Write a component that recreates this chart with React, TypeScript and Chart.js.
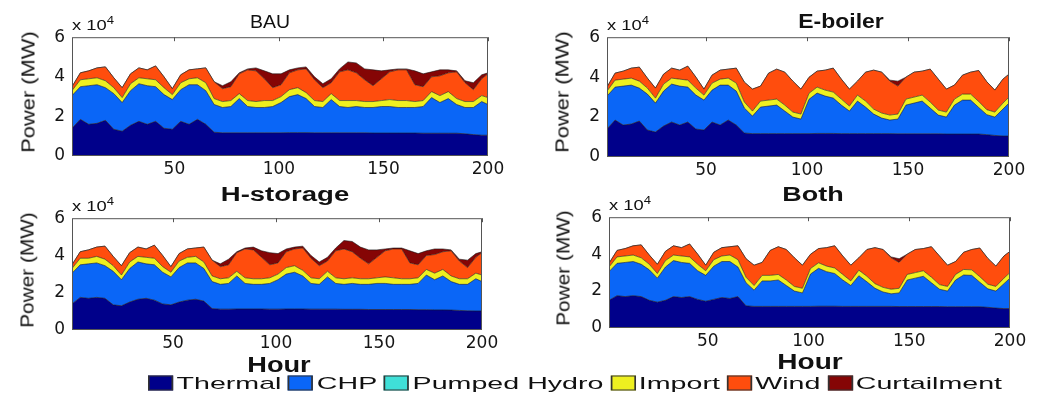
import React, { useEffect, useLayoutEffect, useRef, useState } from "react";
import { Chart, registerables } from "chart.js";

Chart.register(...registerables);

// ---------- data (power in units of 10^4 MW) ----------
const HOURS = [
  1, 5, 9, 13, 17, 21, 25, 29, 33, 37, 41, 45, 49, 53, 57, 61, 65, 69,
  73, 77, 81, 85, 89, 93, 97, 101, 105, 109, 113, 117, 121, 125, 129, 133, 137, 141,
  145, 149, 153, 157, 161, 165, 169, 173, 177, 181, 185, 189, 193, 197, 200,
];
const X_TICKS = [50, 100, 150, 200];
const Y_TICKS = [0, 2, 4, 6];
const SERIES_NAMES = ["Thermal", "CHP", "Pumped Hydro", "Import", "Wind", "Curtailment"];
const SERIES_COLORS = ["#00008a", "#0a66f7", "#3fe0d8", "#eef020", "#ff4d0d", "#850505"];

// BAU
const BAU_THERMAL = [
  1.4, 1.85, 1.6, 1.65, 1.8, 1.35, 1.25, 1.55, 1.75, 1.6, 1.75, 1.4, 1.35, 1.75, 1.6, 1.85, 1.6, 1.2,
  1.17, 1.17, 1.17, 1.17, 1.17, 1.17, 1.17, 1.17, 1.18, 1.18, 1.18, 1.17, 1.17, 1.17, 1.17, 1.17, 1.17, 1.17,
  1.16, 1.16, 1.16, 1.16, 1.16, 1.16, 1.15, 1.15, 1.15, 1.15, 1.15, 1.12, 1.08, 1.05, 1.05,
];
const BAU_CHP = [
  1.65, 1.65, 1.95, 1.95, 1.65, 1.8, 1.45, 1.75, 1.9, 1.95, 1.75, 1.7, 1.5, 1.6, 2.0, 1.75, 1.7, 1.4,
  1.28, 1.33, 1.73, 1.33, 1.28, 1.28, 1.33, 1.53, 1.82, 1.92, 1.72, 1.33, 1.28, 1.68, 1.33, 1.28, 1.33, 1.28,
  1.29, 1.34, 1.34, 1.29, 1.29, 1.29, 1.35, 1.8, 1.55, 1.75, 1.45, 1.33, 1.37, 1.7, 1.55,
];
const BAU_IMPORT = [
  0.25, 0.35, 0.35, 0.35, 0.35, 0.3, 0.25, 0.35, 0.3, 0.35, 0.35, 0.35, 0.25, 0.35, 0.3, 0.35, 0.4, 0.3,
  0.3, 0.3, 0.25, 0.3, 0.3, 0.35, 0.3, 0.3, 0.35, 0.35, 0.3, 0.3, 0.3, 0.3, 0.3, 0.35, 0.3, 0.3,
  0.3, 0.3, 0.35, 0.35, 0.35, 0.3, 0.3, 0.3, 0.35, 0.35, 0.3, 0.3, 0.3, 0.3, 0.35,
];
const BAU_WIND = [
  0.2, 0.35, 0.4, 0.5, 0.7, 0.5, 0.5, 0.5, 0.5, 0.45, 0.7, 0.55, 0.3, 0.4, 0.45, 0.45, 0.75, 0.85,
  0.65, 0.7, 1.0, 1.55, 1.55, 1.1, 0.65, 0.6, 0.85, 0.9, 1.2, 1.05, 0.7, 0.55, 1.45, 1.55, 1.4, 1.1,
  0.8, 1.1, 1.4, 1.55, 1.55, 0.85, 0.7, 0.75, 1.0, 0.95, 1.35, 0.95, 0.6, 0.85, 1.2,
];
const BAU_CURTAILMENT = [
  0, 0, 0, 0, 0, 0, 0, 0, 0, 0, 0, 0, 0, 0, 0, 0, 0, 0,
  0.15, 0.25, 0.05, 0.05, 0.15, 0.4, 0.7, 0.55, 0.15, 0.1, 0.1, 0.15, 0.2, 0.2, 0.15, 0.4, 0.5, 0.55,
  0.8, 0.4, 0.1, 0.05, 0.05, 0.7, 0.65, 0.25, 0.3, 0.15, 0.05, 0.1, 0.35, 0.2, 0.05,
];

// E-boiler
const EB_THERMAL = [
  1.4, 1.85, 1.6, 1.65, 1.8, 1.35, 1.25, 1.55, 1.75, 1.6, 1.75, 1.4, 1.35, 1.75, 1.6, 1.85, 1.6, 1.2,
  1.17, 1.17, 1.17, 1.17, 1.17, 1.17, 1.17, 1.17, 1.18, 1.18, 1.18, 1.17, 1.17, 1.17, 1.17, 1.17, 1.17, 1.17,
  1.16, 1.16, 1.16, 1.16, 1.16, 1.16, 1.15, 1.15, 1.15, 1.15, 1.15, 1.12, 1.08, 1.05, 1.05,
];
const EB_CHP = [
  1.65, 1.65, 1.95, 1.95, 1.65, 1.8, 1.45, 1.75, 1.9, 1.95, 1.75, 1.7, 1.5, 1.6, 2.0, 1.75, 1.7, 1.25,
  0.88, 1.33, 1.38, 1.43, 1.13, 0.83, 0.73, 1.72, 2.02, 1.87, 1.77, 1.43, 1.13, 1.63, 1.33, 0.98, 0.78, 0.68,
  0.74, 1.44, 1.54, 1.64, 1.29, 0.94, 0.85, 1.45, 1.7, 1.7, 1.33, 1.0, 0.92, 1.35, 1.65,
];
const EB_IMPORT = [
  0.25, 0.35, 0.35, 0.35, 0.35, 0.3, 0.25, 0.35, 0.3, 0.35, 0.35, 0.35, 0.25, 0.35, 0.3, 0.35, 0.4, 0.3,
  0.25, 0.3, 0.3, 0.3, 0.3, 0.25, 0.25, 0.3, 0.3, 0.3, 0.3, 0.3, 0.25, 0.3, 0.3, 0.25, 0.25, 0.25,
  0.25, 0.3, 0.3, 0.3, 0.3, 0.25, 0.25, 0.3, 0.3, 0.3, 0.3, 0.25, 0.25, 0.3, 0.3,
];
const EB_WIND = [
  0.2, 0.35, 0.4, 0.5, 0.7, 0.5, 0.5, 0.5, 0.5, 0.45, 0.7, 0.55, 0.3, 0.4, 0.45, 0.45, 0.75, 1.0,
  1.1, 0.75, 1.35, 1.5, 1.65, 1.55, 1.25, 0.8, 0.8, 1.0, 1.2, 1.0, 0.85, 0.7, 1.45, 1.95, 2.05, 1.7,
  1.4, 1.1, 1.25, 1.2, 1.65, 1.55, 1.15, 0.7, 0.95, 1.1, 1.55, 1.4, 1.1, 1.2, 1.15,
];
const EB_CURTAILMENT = [
  0, 0, 0, 0, 0, 0, 0, 0, 0, 0, 0, 0, 0, 0, 0, 0, 0, 0,
  0, 0, 0, 0, 0, 0, 0, 0, 0, 0, 0, 0, 0, 0, 0, 0, 0, 0.05,
  0.25, 0, 0, 0, 0, 0, 0, 0, 0, 0, 0, 0, 0, 0, 0,
];

// H-storage
const HS_THERMAL = [
  1.4, 1.75, 1.7, 1.75, 1.7, 1.35, 1.3, 1.5, 1.65, 1.7, 1.6, 1.4, 1.35, 1.5, 1.6, 1.65, 1.55, 1.15,
  1.12, 1.12, 1.13, 1.13, 1.13, 1.13, 1.12, 1.12, 1.13, 1.13, 1.13, 1.12, 1.12, 1.12, 1.12, 1.11, 1.11, 1.11,
  1.1, 1.1, 1.1, 1.1, 1.1, 1.1, 1.09, 1.09, 1.08, 1.08, 1.07, 1.05, 1.03, 1.02, 1.02,
];
const HS_CHP = [
  1.65, 1.75, 1.85, 1.85, 1.75, 1.8, 1.4, 1.8, 2.0, 1.85, 1.9, 1.7, 1.5, 1.85, 2.0, 1.95, 1.75, 1.45,
  1.33, 1.38, 1.77, 1.37, 1.32, 1.32, 1.38, 1.58, 1.87, 1.97, 1.77, 1.38, 1.33, 1.73, 1.38, 1.34, 1.39, 1.34,
  1.35, 1.4, 1.4, 1.35, 1.35, 1.35, 1.41, 1.86, 1.62, 1.82, 1.53, 1.4, 1.42, 1.73, 1.58,
];
const HS_IMPORT = [
  0.25, 0.35, 0.3, 0.35, 0.35, 0.3, 0.25, 0.35, 0.3, 0.35, 0.35, 0.3, 0.25, 0.35, 0.3, 0.35, 0.35, 0.3,
  0.3, 0.3, 0.25, 0.3, 0.3, 0.3, 0.3, 0.3, 0.35, 0.35, 0.3, 0.3, 0.3, 0.3, 0.3, 0.3, 0.3, 0.3,
  0.3, 0.3, 0.35, 0.35, 0.3, 0.3, 0.3, 0.3, 0.35, 0.35, 0.3, 0.3, 0.3, 0.3, 0.35,
];
const HS_WIND = [
  0.2, 0.35, 0.45, 0.5, 0.7, 0.5, 0.5, 0.5, 0.5, 0.45, 0.7, 0.6, 0.3, 0.4, 0.45, 0.45, 0.8, 0.85,
  0.65, 0.7, 1.0, 1.55, 1.55, 1.15, 0.7, 0.6, 0.85, 0.9, 1.2, 1.05, 0.7, 0.55, 1.45, 1.6, 1.4, 1.1,
  0.8, 1.1, 1.4, 1.55, 1.6, 0.85, 0.7, 0.75, 1.0, 0.95, 1.35, 0.95, 0.6, 0.85, 1.2,
];
const HS_CURTAILMENT = [
  0, 0, 0, 0, 0, 0, 0, 0, 0, 0, 0, 0, 0, 0, 0, 0, 0, 0,
  0.15, 0.3, 0.05, 0.05, 0.15, 0.35, 0.65, 0.5, 0.15, 0.1, 0.1, 0.15, 0.2, 0.2, 0.15, 0.45, 0.55, 0.6,
  0.75, 0.4, 0.1, 0.05, 0.05, 0.65, 0.6, 0.25, 0.3, 0.15, 0.05, 0.1, 0.4, 0.2, 0.05,
];

// Both
const BO_THERMAL = [
  1.5, 1.75, 1.7, 1.75, 1.7, 1.5, 1.4, 1.5, 1.7, 1.65, 1.7, 1.55, 1.45, 1.55, 1.65, 1.6, 1.7, 1.2,
  1.17, 1.17, 1.17, 1.17, 1.17, 1.17, 1.17, 1.17, 1.18, 1.18, 1.18, 1.17, 1.17, 1.17, 1.17, 1.17, 1.17, 1.17,
  1.16, 1.16, 1.16, 1.16, 1.16, 1.16, 1.15, 1.15, 1.15, 1.15, 1.15, 1.12, 1.08, 1.05, 1.05,
];
const BO_CHP = [
  1.55, 1.75, 1.85, 1.85, 1.75, 1.65, 1.3, 1.8, 1.95, 1.9, 1.8, 1.55, 1.4, 1.8, 1.95, 2.0, 1.6, 1.25,
  0.88, 1.38, 1.38, 1.43, 1.13, 0.83, 0.73, 1.75, 2.05, 1.87, 1.77, 1.43, 1.13, 1.66, 1.33, 0.98, 0.78, 0.68,
  0.74, 1.44, 1.54, 1.64, 1.29, 0.94, 0.85, 1.45, 1.72, 1.7, 1.33, 1.0, 0.92, 1.35, 1.65,
];
const BO_IMPORT = [
  0.25, 0.35, 0.35, 0.35, 0.35, 0.3, 0.25, 0.35, 0.3, 0.35, 0.35, 0.35, 0.25, 0.35, 0.3, 0.35, 0.4, 0.3,
  0.25, 0.3, 0.3, 0.3, 0.3, 0.25, 0.25, 0.3, 0.3, 0.3, 0.3, 0.3, 0.25, 0.3, 0.3, 0.25, 0.25, 0.25,
  0.25, 0.3, 0.3, 0.3, 0.3, 0.25, 0.25, 0.3, 0.3, 0.3, 0.3, 0.25, 0.25, 0.3, 0.3,
];
const BO_WIND = [
  0.2, 0.35, 0.4, 0.5, 0.7, 0.5, 0.5, 0.5, 0.5, 0.45, 0.7, 0.55, 0.3, 0.4, 0.45, 0.45, 0.75, 1.0,
  1.1, 0.7, 1.35, 1.5, 1.65, 1.55, 1.25, 0.77, 0.77, 1.0, 1.2, 1.0, 0.85, 0.67, 1.45, 1.95, 2.05, 1.7,
  1.4, 1.1, 1.25, 1.2, 1.65, 1.55, 1.15, 0.7, 0.93, 1.1, 1.55, 1.4, 1.1, 1.2, 1.15,
];
const BO_CURTAILMENT = [
  0, 0, 0, 0, 0, 0, 0, 0, 0, 0, 0, 0, 0, 0, 0, 0, 0, 0,
  0, 0, 0, 0, 0, 0, 0, 0, 0, 0, 0, 0, 0, 0, 0, 0, 0, 0.05,
  0.2, 0, 0, 0, 0, 0, 0, 0, 0, 0, 0, 0, 0, 0, 0,
];

// ---------- layout ----------
type Rect = { l: number; t: number; r: number; b: number };
type PanelCfg = {
  title: string;
  bold: boolean;
  titlePos: { x: number; y: number; w: number; size: number };
  rect: Rect;
  ylab: { x: number; y: number; w: number };
  hour?: { x: number; y: number; w: number };
  series: number[][]; // thermal, chp, import, wind, curtailment
};

const PANELS: PanelCfg[] = [
  {
    title: "BAU", bold: false, titlePos: { x: 270, y: 22, w: 40, size: 18 },
    rect: { l: 72, t: 32, r: 488, b: 156 }, ylab: { x: 28, y: 92, w: 122 },
    series: [BAU_THERMAL, BAU_CHP, BAU_IMPORT, BAU_WIND, BAU_CURTAILMENT],
  },
  {
    title: "E-boiler", bold: true, titlePos: { x: 841, y: 21, w: 85, size: 20 },
    rect: { l: 607, t: 32, r: 1009, b: 157 }, ylab: { x: 562, y: 92, w: 122 },
    series: [EB_THERMAL, EB_CHP, EB_IMPORT, EB_WIND, EB_CURTAILMENT],
  },
  {
    title: "H-storage", bold: true, titlePos: { x: 285, y: 194, w: 128, size: 20 },
    rect: { l: 72, t: 213, r: 482, b: 330 }, ylab: { x: 27, y: 270, w: 116 },
    hour: { x: 279, y: 365, w: 63 },
    series: [HS_THERMAL, HS_CHP, HS_IMPORT, HS_WIND, HS_CURTAILMENT],
  },
  {
    title: "Both", bold: true, titlePos: { x: 813, y: 194, w: 62, size: 20 },
    rect: { l: 609, t: 212, r: 1010, b: 328 }, ylab: { x: 563, y: 268, w: 116 },
    hour: { x: 810, y: 362, w: 65 },
    series: [BO_THERMAL, BO_CHP, BO_IMPORT, BO_WIND, BO_CURTAILMENT],
  },
];

const PLOTTED = [0, 1, 3, 4, 5]; // indices into SERIES_NAMES for the series arrays
const PAD_L = 50, PAD_T = 12, PAD_R = 22, PAD_B = 30;
const TEXT_FONT = "'Liberation Sans', Arial, sans-serif";
const TICK_FONT = { family: "'DejaVu Sans', sans-serif", size: 17 };

const framePlugin = {
  id: "frame",
  afterDraw(chart: any) {
    const { ctx, chartArea: a, scales } = chart;
    ctx.save();
    ctx.strokeStyle = "#555";
    ctx.lineWidth = 1;
    ctx.strokeRect(a.left + 0.5, a.top + 0.5, a.right - a.left - 1, a.bottom - a.top - 1);
    ctx.beginPath();
    for (const v of X_TICKS) {
      const px = Math.round(scales.x.getPixelForValue(v)) + 0.5;
      ctx.moveTo(px, a.top);
      ctx.lineTo(px, a.top + 4);
    }
    ctx.stroke();
    ctx.restore();
  },
};

function AreaPanel({ cfg }: { cfg: PanelCfg }) {
  const ref = useRef<HTMLCanvasElement>(null);
  const { rect } = cfg;
  const w = rect.r - rect.l + PAD_L + PAD_R;
  const h = rect.b - rect.t + PAD_T + PAD_B;

  useEffect(() => {
    if (!ref.current) return;
    const datasets = cfg.series.map((vals, i) => {
      const si = PLOTTED[i];
      return {
        label: SERIES_NAMES[si],
        data: HOURS.map((x, j) => ({ x, y: vals[j] })),
        backgroundColor: SERIES_COLORS[si],
        borderColor: "rgba(25,25,25,0.85)",
        borderWidth: 0.7,
        pointRadius: 0,
        tension: 0,
        fill: i === 0 ? "origin" : "-1",
      };
    });
    const chart = new Chart(ref.current, {
      type: "line",
      data: { datasets } as any,
      options: {
        responsive: false,
        animation: false,
        devicePixelRatio: 1,
        layout: { padding: { top: PAD_T, right: PAD_R, left: 0, bottom: 0 } },
        plugins: {
          legend: { display: false },
          tooltip: { enabled: false },
          title: { display: false },
        },
        scales: {
          x: {
            type: "linear",
            min: 1,
            max: 200,
            afterBuildTicks: (s: any) => {
              s.ticks = X_TICKS.map((v) => ({ value: v }));
            },
            afterFit: (s: any) => {
              s.height = PAD_B;
            },
            ticks: { font: TICK_FONT, color: "#151515", padding: 3, maxRotation: 0, autoSkip: false },
            grid: { display: false, drawTicks: false },
            border: { display: false },
          },
          y: {
            type: "linear",
            stacked: true,
            min: 0,
            max: 6,
            afterBuildTicks: (s: any) => {
              s.ticks = Y_TICKS.map((v) => ({ value: v }));
            },
            afterFit: (s: any) => {
              s.width = PAD_L;
            },
            ticks: { font: TICK_FONT, color: "#151515", padding: 7 },
            grid: { display: false, drawTicks: false },
            border: { display: false },
          },
        },
      } as any,
      plugins: [framePlugin],
    });
    return () => chart.destroy();
  }, [cfg]);

  return (
    <canvas
      ref={ref}
      width={w}
      height={h}
      style={{ position: "absolute", left: rect.l - PAD_L, top: rect.t - PAD_T, width: w, height: h }}
    />
  );
}

function FitText({
  x, y, w, size, bold, rotate, children,
}: {
  x: number; y: number; w: number; size: number; bold?: boolean; rotate?: number; children: React.ReactNode;
}) {
  const ref = useRef<HTMLSpanElement>(null);
  const [sx, setSx] = useState(1);
  useLayoutEffect(() => {
    if (ref.current) {
      const nat = ref.current.offsetWidth;
      if (nat > 0) setSx(w / nat);
    }
  }, [w]);
  return (
    <div
      style={{
        position: "absolute",
        left: x,
        top: y,
        transform: `translate(-50%, -50%) rotate(${rotate || 0}deg) scaleX(${sx})`,
        whiteSpace: "nowrap",
        fontFamily: TEXT_FONT,
        fontSize: size,
        fontWeight: bold ? "bold" : "normal",
        lineHeight: 1,
        color: "#111",
      }}
    >
      <span ref={ref} style={{ display: "inline-block" }}>{children}</span>
    </div>
  );
}

function Legend() {
  return (
    <FitText x={575} y={384} w={855} size={17}>
      <span style={{ display: "inline-flex", alignItems: "center" }}>
        {SERIES_NAMES.map((name, i) => (
          <span key={name} style={{ display: "inline-flex", alignItems: "center", marginRight: i < SERIES_NAMES.length - 1 ? 4 : 0 }}>
            <span
              style={{
                display: "inline-block",
                width: 15,
                height: 15,
                background: SERIES_COLORS[i],
                border: "1px solid #333",
                boxSizing: "border-box",
                marginRight: 2,
              }}
            />
            <span>{name}</span>
          </span>
        ))}
      </span>
    </FitText>
  );
}

export default function App() {
  return (
    <div
      style={{
        position: "absolute",
        left: 0,
        top: 0,
        width: 1056,
        height: 397,
        background: "#fff",
        overflow: "hidden",
      }}
    >
      {PANELS.map((p) => (
        <React.Fragment key={p.title}>
          <AreaPanel cfg={p} />
          <FitText x={p.titlePos.x} y={p.titlePos.y} w={p.titlePos.w} size={p.titlePos.size} bold={p.bold}>
            {p.title}
          </FitText>
          <FitText x={p.rect.l + 21} y={p.rect.t - 7} w={42} size={14}>
            x 10<sup style={{ fontSize: 10, verticalAlign: 6, lineHeight: 0 }}>4</sup>
          </FitText>
          <FitText x={p.ylab.x} y={p.ylab.y} w={p.ylab.w} size={19} rotate={-90}>
            Power (MW)
          </FitText>
          {p.hour && (
            <FitText x={p.hour.x} y={p.hour.y} w={p.hour.w} size={22} bold>
              Hour
            </FitText>
          )}
        </React.Fragment>
      ))}
      <Legend />
    </div>
  );
}
